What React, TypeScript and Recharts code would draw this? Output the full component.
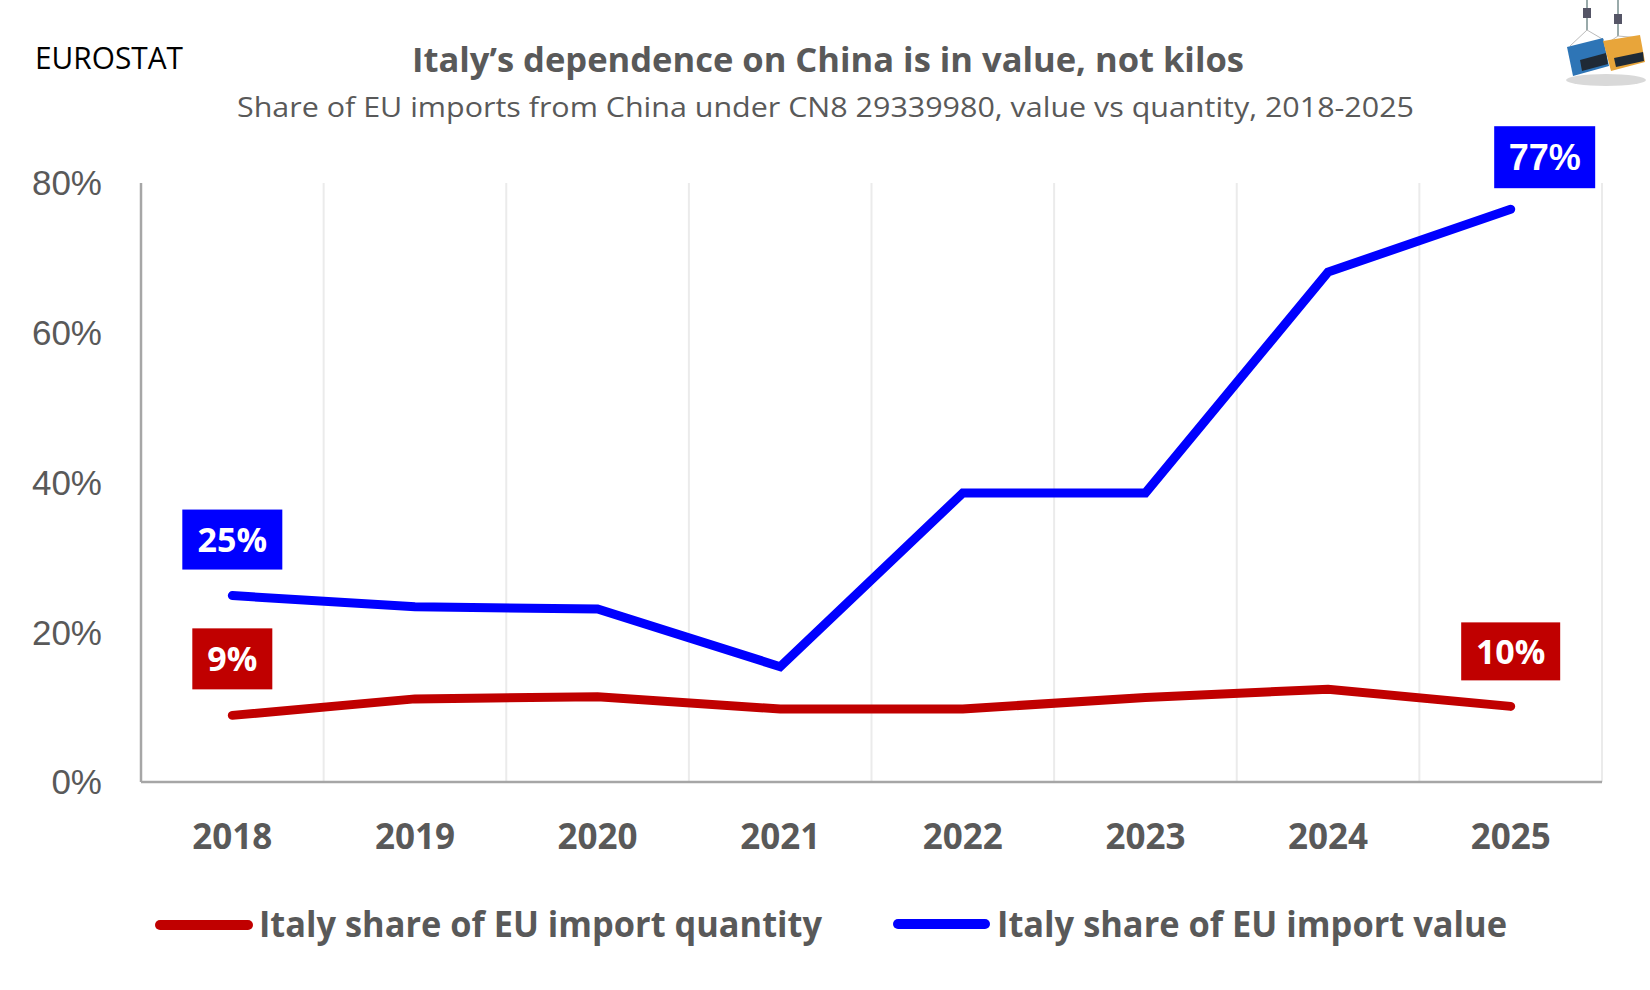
import React from 'react';
import { LineChart, Line, XAxis, YAxis, CartesianGrid, LabelList } from 'recharts';

// Italy share of EU imports from China, CN8 29339980 (percent)
const years = ['2018', '2019', '2020', '2021', '2022', '2023', '2024', '2025'];
const valueShare = [24.9, 23.4, 23.1, 15.4, 38.6, 38.6, 68.1, 76.5];
const quantityShare = [8.9, 11.1, 11.4, 9.75, 9.75, 11.3, 12.4, 10.1];
const yTicks = [0, 20, 40, 60, 80];

const data = years.map((year, i) => ({
  year,
  value: valueShare[i],
  quantity: quantityShare[i],
}));

const GREY = '#595959';
const BLUE = '#0000FF';
const RED = '#C00000';
const SEGOE = '"Open Sans", "Noto Sans", sans-serif';
const ARIAL = '"Liberation Sans", Arial, sans-serif';

// callout boxes only on first and last point, keyed by index
type Box = { w: number; h: number; dx: number; gap: number; fs: number; font: string };
const valueBoxes: Record<number, Box> = {
  0: { w: 100, h: 60, dx: 0, gap: 26, fs: 34, font: SEGOE },
  7: { w: 101, h: 62, dx: 34, gap: 21, fs: 36, font: ARIAL },
};
const quantityBoxes: Record<number, Box> = {
  0: { w: 80, h: 61, dx: 0, gap: 26, fs: 34, font: SEGOE },
  7: { w: 99, h: 58, dx: 0, gap: 26, fs: 34, font: SEGOE },
};

const makeCallout = (color: string, boxes: Record<number, Box>) => (props: any) => {
  const { x, y, index, value } = props;
  const box = boxes[index];
  if (!box || x == null || y == null) return null;
  const cx = Number(x) + box.dx;
  const top = Number(y) - box.gap - box.h;
  return (
    <g>
      <rect x={cx - box.w / 2} y={top} width={box.w} height={box.h} fill={color} />
      <text
        x={cx}
        y={top + box.h / 2 + box.fs * 0.36}
        textAnchor="middle"
        fill="#fff"
        fontWeight={700}
        fontSize={box.fs}
        fontFamily={box.font}
      >
        {Math.round(Number(value))}%
      </text>
    </g>
  );
};

const Logo = () => (
  <g>
    <ellipse cx={1606} cy={80} rx={40} ry={6} fill="#d9d9d9" />
    <line x1={1587} y1={0} x2={1587} y2={30} stroke="#9aa" strokeWidth={2} />
    <line x1={1618} y1={0} x2={1618} y2={36} stroke="#9aa" strokeWidth={2} />
    <rect x={1583} y={8} width={8} height={10} fill="#556" />
    <rect x={1614} y={14} width={8} height={10} fill="#556" />
    <line x1={1587} y1={30} x2={1570} y2={46} stroke="#bbb" strokeWidth={1} />
    <line x1={1587} y1={30} x2={1604} y2={40} stroke="#bbb" strokeWidth={1} />
    <line x1={1618} y1={36} x2={1606} y2={44} stroke="#bbb" strokeWidth={1} />
    <line x1={1618} y1={36} x2={1640} y2={38} stroke="#bbb" strokeWidth={1} />
    <polygon points="1567,47 1603,38 1609,66 1573,76" fill="#2E75B6" />
    <polygon points="1580,60 1606,53 1608,64 1582,71" fill="#1f2a36" />
    <polygon points="1603,41 1640,35 1645,62 1611,71" fill="#E8A53A" />
    <polygon points="1614,58 1643,52 1644,61 1616,67" fill="#1f2a36" />
  </g>
);

export default function App() {
  return (
    <div style={{ position: 'absolute', left: 0, top: 0, width: 1650, height: 990, background: '#fff' }}>
      <LineChart
        width={1650}
        height={990}
        data={data}
        margin={{ top: 183, right: 48, left: 0, bottom: 128 }}
      >
        <CartesianGrid
          horizontal={false}
          stroke="#EBEBEB"
          strokeWidth={2}
          verticalCoordinatesGenerator={({ offset }: any) =>
            years.map((_, i) => offset.left + ((i + 1) * offset.width) / years.length)
          }
        />
        <XAxis
          dataKey="year"
          scale="band"
          height={80}
          tickSize={0}
          tickMargin={42}
          axisLine={{ stroke: '#A6A6A6', strokeWidth: 2.5 }}
          tickLine={false}
          tick={{ fill: GREY, fontSize: 35, fontWeight: 700, fontFamily: SEGOE }}
        />
        <YAxis
          domain={[0, 80]}
          ticks={yTicks}
          tickFormatter={(v) => `${v}%`}
          width={141}
          tickSize={0}
          tickMargin={39}
          axisLine={{ stroke: '#A6A6A6', strokeWidth: 2.5 }}
          tickLine={false}
          tick={{ fill: GREY, fontSize: 35, fontFamily: ARIAL }}
        />
        <Line
          type="linear"
          dataKey="quantity"
          stroke={RED}
          strokeWidth={9}
          strokeLinecap="round"
          dot={false}
          activeDot={false}
          isAnimationActive={false}
        >
          <LabelList dataKey="quantity" content={makeCallout(RED, quantityBoxes)} />
        </Line>
        <Line
          type="linear"
          dataKey="value"
          stroke={BLUE}
          strokeWidth={9}
          strokeLinecap="round"
          dot={false}
          activeDot={false}
          isAnimationActive={false}
        >
          <LabelList dataKey="value" content={makeCallout(BLUE, valueBoxes)} />
        </Line>
      </LineChart>

      <svg
        width={1650}
        height={990}
        style={{ position: 'absolute', left: 0, top: 0, pointerEvents: 'none' }}
      >
        <text x={35} y={69} fontSize={31} fontFamily={SEGOE} fill="#000" textLength={148} lengthAdjust="spacingAndGlyphs">
          EUROSTAT
        </text>
        <text x={412} y={72} fontSize={34} fontWeight={700} fontFamily={SEGOE} fill={GREY} textLength={832} lengthAdjust="spacingAndGlyphs">
          Italy’s dependence on China is in value, not kilos
        </text>
        <text x={237} y={117} fontSize={28} fontFamily={SEGOE} fill={GREY} textLength={1177} lengthAdjust="spacingAndGlyphs">
          Share of EU imports from China under CN8 29339980, value vs quantity, 2018-2025
        </text>

        {/* legend */}
        <line x1={160} y1={925} x2={248} y2={925} stroke={RED} strokeWidth={10} strokeLinecap="round" />
        <text x={259} y={937} fontSize={35} fontWeight={700} fontFamily={SEGOE} fill={GREY} textLength={563} lengthAdjust="spacingAndGlyphs">
          Italy share of EU import quantity
        </text>
        <line x1={898} y1={924} x2={985} y2={924} stroke={BLUE} strokeWidth={10} strokeLinecap="round" />
        <text x={997} y={937} fontSize={35} fontWeight={700} fontFamily={SEGOE} fill={GREY} textLength={510} lengthAdjust="spacingAndGlyphs">
          Italy share of EU import value
        </text>

        <Logo />
      </svg>
    </div>
  );
}
